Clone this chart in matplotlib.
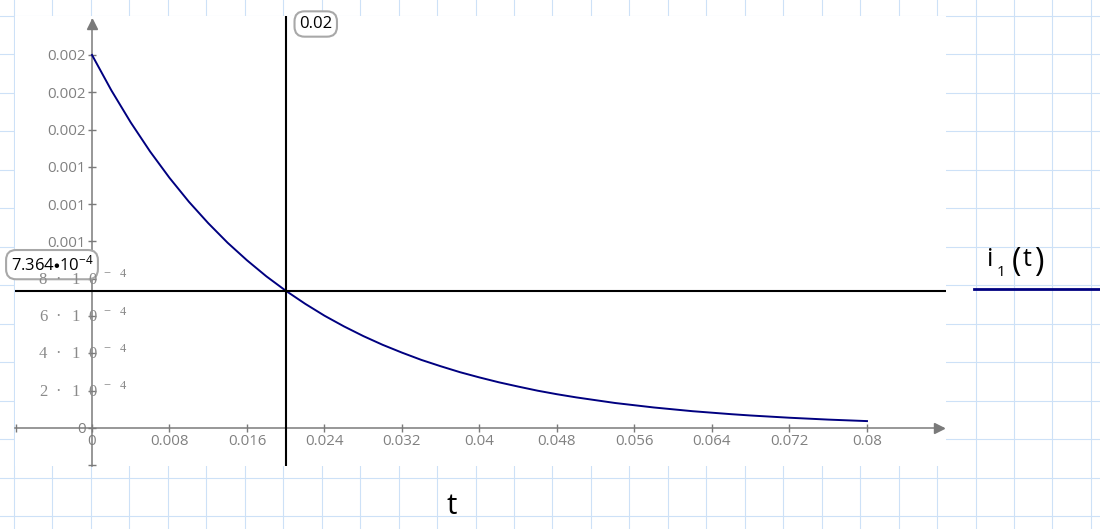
import matplotlib.pyplot as plt
from matplotlib import transforms

plt.rcParams['font.family'] = ['Open Sans', 'DejaVu Sans']

# i1(t), sampled every 2 ms
t = [0.000, 0.002, 0.004, 0.006, 0.008, 0.010, 0.012, 0.014, 0.016, 0.018,
     0.020, 0.022, 0.024, 0.026, 0.028, 0.030, 0.032, 0.034, 0.036, 0.038,
     0.040, 0.042, 0.044, 0.046, 0.048, 0.050, 0.052, 0.054, 0.056, 0.058,
     0.060, 0.062, 0.064, 0.066, 0.068, 0.070, 0.072, 0.074, 0.076, 0.078, 0.080]
i1 = [2.000e-3, 1.810e-3, 1.638e-3, 1.482e-3, 1.341e-3, 1.213e-3, 1.098e-3,
      0.993e-3, 0.899e-3, 0.813e-3, 0.736e-3, 0.666e-3, 0.602e-3, 0.545e-3,
      0.493e-3, 0.446e-3, 0.404e-3, 0.365e-3, 0.331e-3, 0.299e-3, 0.271e-3,
      0.245e-3, 0.222e-3, 0.200e-3, 0.181e-3, 0.164e-3, 0.149e-3, 0.134e-3,
      0.122e-3, 0.110e-3, 0.100e-3, 0.090e-3, 0.082e-3, 0.074e-3, 0.067e-3,
      0.061e-3, 0.055e-3, 0.050e-3, 0.045e-3, 0.041e-3, 0.037e-3]

x_ticks = [0, 0.008, 0.016, 0.024, 0.032, 0.04, 0.048, 0.056, 0.064, 0.072, 0.08]
x_tick_labels = ["0", "0.008", "0.016", "0.024", "0.032", "0.04", "0.048",
                 "0.056", "0.064", "0.072", "0.08"]
y_ticks = [0, 2e-4, 4e-4, 6e-4, 8e-4, 1e-3, 1.2e-3, 1.4e-3, 1.6e-3, 1.8e-3, 2e-3]
y_tick_labels = ["0", "", "", "", "", "0.001", "0.001", "0.001", "0.002", "0.002", "0.002"]
# small ticks written as "d · 10^-4"
sci_ticks = [2e-4, 4e-4, 6e-4, 8e-4]
sci_digits = ["2", "4", "6", "8"]

t_cursor = 0.02
i_cursor = 7.364e-4

GRAY = '#7a7a7a'
NAVY = '#000080'
GRID = '#cde1f7'

fig = plt.figure(figsize=(11, 5.29), dpi=100)

# worksheet grid in pixel coordinates
bg = fig.add_axes([0, 0, 1, 1])
bg.set_xlim(0, 1100)
bg.set_ylim(529, 0)
bg.axis('off')
for k in range(30):
    bg.axvline(14 + 38.46 * k, color=GRID, lw=0.8)
for k in range(15):
    bg.axhline(16 + 38.46 * k, color=GRID, lw=0.8)

# plot region
ax = fig.add_axes([15 / 1100, (529 - 466) / 529, 931 / 1100, 450 / 529])
ax.set_facecolor('white')
ax.set_xlim(-0.0079484, 0.088155)
ax.set_ylim(-2.0375e-4, 2.2088e-3)

for s in ['top', 'right']:
    ax.spines[s].set_visible(False)
ax.spines['left'].set_position(('data', 0))
ax.spines['bottom'].set_position(('data', 0))
ax.spines['left'].set_bounds(-2.0375e-4, 2.19e-3)
ax.spines['bottom'].set_bounds(-0.0079484, 0.0878)
for s in ['left', 'bottom']:
    ax.spines[s].set_color(GRAY)
    ax.spines[s].set_linewidth(1.1)

ax.plot([0.0874], [0], marker='>', ms=7, color=GRAY, clip_on=False, zorder=3)
ax.plot([0], [2.168e-3], marker='^', ms=7, color=GRAY, clip_on=False, zorder=3)

ax.set_xticks(x_ticks, x_tick_labels)
ax.set_yticks(y_ticks, y_tick_labels)
ax.set_xticks([-0.00785], minor=True)
ax.set_yticks([-2.0e-4], minor=True)
ax.tick_params(which='both', direction='inout', length=6, width=1, color=GRAY)
ax.tick_params(labelcolor='#808080', labelsize=10.8)
ax.tick_params(axis='y', pad=1.3)
ax.tick_params(axis='x', pad=1.0)

off = lambda dx, dy: transforms.offset_copy(ax.transData, fig=fig, x=dx, y=dy, units='dots')
for v, d in zip(sci_ticks, sci_digits):
    for ch, dx in [(d, -49), ('·', -34), ('1', -16.5), ('0', 0.5)]:
        ax.text(0, v, ch, transform=off(dx, -1), ha='center', va='center',
                fontsize=12, family='Liberation Serif', color='#8a8a8a', zorder=7)
    for ch, dx in [('−', 15), ('4', 30.5)]:
        ax.text(0, v, ch, transform=off(dx, 4.5), ha='center', va='center',
                fontsize=9, family='Liberation Serif', color='#8a8a8a', zorder=7)

ax.plot(t, i1, color=NAVY, lw=1.4, zorder=4)

# cursor
ax.axvline(t_cursor, color='black', lw=1.5, zorder=5)
ax.axhline(i_cursor, color='black', lw=1.5, zorder=5)
box = dict(boxstyle='round,pad=0.28,rounding_size=0.6', fc='white', ec='#a8a8a8', lw=1.5)
ax.annotate('0.02', xy=(t_cursor, 1), xycoords=('data', 'axes fraction'),
            xytext=(30, -8), textcoords='offset pixels', ha='center', va='center',
            fontsize=12, bbox=box, annotation_clip=False, zorder=6)
ax.annotate(r'$\mathregular{7.364{\bullet}10^{-4}}$', xy=(0, i_cursor),
            xytext=(-40, 26), textcoords='offset pixels', ha='center', va='center',
            fontsize=12, bbox=box, annotation_clip=False, zorder=6)

ax.set_xlabel('t', fontsize=21, color='black')
ax.xaxis.set_label_coords((451.7 - 15) / 931, -48 / 450)
ax.xaxis.label.set_va('baseline')

# legend entry
bg.plot([974, 1100], [288.5, 288.5], color=NAVY, lw=2)
bg.text(990.5, 266.5, 'i', ha='center', va='baseline', fontsize=18)
bg.text(1001.5, 275.5, '1', ha='center', va='baseline', fontsize=11)
bg.text(1016.5, 262.5, '(', ha='center', va='center', fontsize=23)
bg.text(1027.5, 266.5, 't', ha='center', va='baseline', fontsize=18)
bg.text(1039, 262.5, ')', ha='center', va='center', fontsize=23)

fig.savefig('out.png', dpi=100)
